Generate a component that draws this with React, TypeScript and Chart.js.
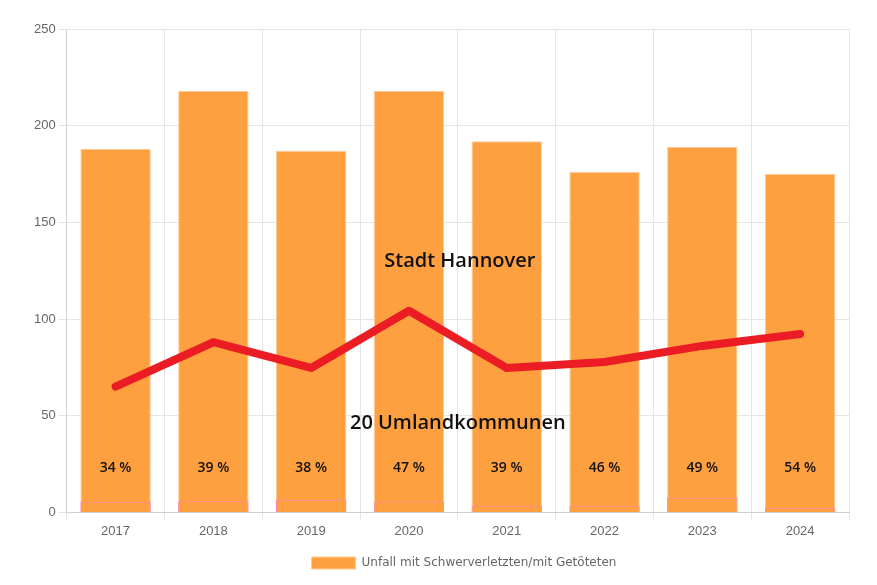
import React, { useEffect, useRef } from "react";
import { Chart, registerables } from "chart.js";

Chart.register(...registerables);

const years = ["2017", "2018", "2019", "2020", "2021", "2022", "2023", "2024"];
const totalAccidents = [188, 218, 187, 218, 192, 176, 189, 175];
const smallBase = [5.5, 5.8, 6.6, 5.7, 3.5, 3.5, 7.6, 2.4];
const umlandLine = [65, 88, 74.7, 104.3, 74.7, 77.8, 86.1, 92.3];
const percentLabels = ["34 %", "39 %", "38 %", "47 %", "39 %", "46 %", "49 %", "54 %"];
const legendLabel = "Unfall mit Schwerverletzten/mit Getöteten";
const annotationTop = "Stadt Hannover";
const annotationBottom = "20 Umlandkommunen";

const textPlugin = {
  id: "textPlugin",
  afterLayout(chart: any) {
    if (chart.legend) {
      chart.legend.left += 48;
    }
  },
  afterDatasetsDraw(chart: any) {
    const { ctx, scales } = chart;
    const x = scales.x;
    const y = scales.y;
    ctx.save();
    ctx.fillStyle = "#111";
    ctx.textAlign = "center";
    ctx.textBaseline = "middle";
    ctx.font = "600 14px 'Open Sans'";
    percentLabels.forEach((t, i) => {
      ctx.fillText(t, x.getPixelForValue(i), y.getPixelForValue(23));
    });
    ctx.font = "600 20px 'Open Sans'";
    const mid = (x.getPixelForValue(3) + x.getPixelForValue(4)) / 2;
    ctx.fillText(annotationTop, mid + 2, y.getPixelForValue(130));
    ctx.fillText(annotationBottom, mid, y.getPixelForValue(46));
    ctx.restore();
  },
};

export default function App() {
  const ref = useRef<HTMLCanvasElement>(null);
  useEffect(() => {
    if (!ref.current) return;
    const chart = new Chart(ref.current, {
      type: "bar",
      data: {
        labels: years,
        datasets: [
          {
            type: "line",
            label: "Umland",
            data: umlandLine,
            borderColor: "#EC1C24",
            borderWidth: 8,
            pointRadius: 0,
            borderCapStyle: "round",
            borderJoinStyle: "round",
            fill: false,
            tension: 0,
            order: 0,
          } as any,
          {
            label: "base",
            data: smallBase,
            backgroundColor: "#FFA040",
            borderColor: "#FF80B8",
            borderWidth: 1,
            grouped: false,
            order: 1,
          } as any,
          {
            label: legendLabel,
            data: totalAccidents,
            backgroundColor: "#FFA040",
            borderColor: "#FFC894",
            borderWidth: 1,
            grouped: false,
            order: 2,
          } as any,
        ],
      },
      options: {
        animation: false,
        responsive: false,
        layout: { padding: { top: 29, right: 28, left: 31, bottom: 6 } },
        plugins: {
          tooltip: { enabled: false },
          legend: {
            position: "bottom",
            labels: {
              filter: (item: any) => item.text === legendLabel,
              boxWidth: 44,
              boxHeight: 12,
              padding: 15,
              color: "#666",
              font: { family: "Tahoma, 'DejaVu Sans', Arial", size: 12 },
            },
          },
        },
        scales: {
          x: {
            grid: { color: "#e5e5e5", offset: true, tickLength: 8 },
            border: { color: "#d0d0d0" },
            ticks: { color: "#666", font: { family: "Arial, 'Liberation Sans'", size: 13 } },
          },
          y: {
            min: 0,
            max: 250,
            grid: { color: "#e5e5e5", tickLength: 8 },
            border: { color: "#d0d0d0" },
            ticks: { stepSize: 50, color: "#666", font: { family: "Arial, 'Liberation Sans'", size: 13 } },
          },
        },
      },
      plugins: [textPlugin],
    });
    return () => chart.destroy();
  }, []);
  return (
    <div style={{ position: "absolute", left: 0, top: 0, width: 877, height: 585 }}>
      <canvas ref={ref} width={877} height={585} style={{ width: 877, height: 585 }} />
    </div>
  );
}
